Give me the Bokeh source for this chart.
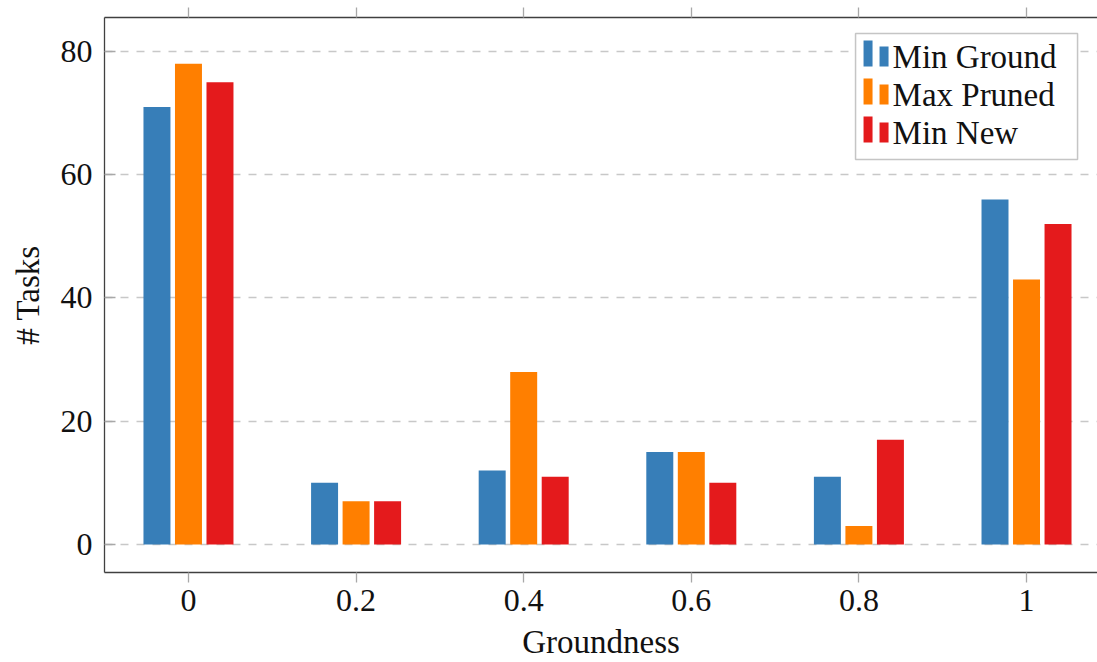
from bokeh.plotting import figure
from bokeh.models import FixedTicker, LinearAxis, Range1d, BoxAnnotation, Label
from bokeh.embed import file_html
from bokeh.resources import INLINE

# groundness bins and task counts per strategy
groundness = [0, 0.2, 0.4, 0.6, 0.8, 1]
min_ground = [71, 10, 12, 15, 11, 56]
max_pruned = [78, 7, 28, 15, 3, 43]
min_new = [75, 7, 11, 10, 17, 52]
series_names = ["Min Ground", "Max Pruned", "Min New"]
series_colors = ["#377eb8", "#ff7f00", "#e41a1c"]
x_tick_labels = ["0", "0.2", "0.4", "0.6", "0.8", "1"]
y_ticks = [0, 20, 40, 60, 80]

FONT = "Liberation Serif"
TICK_FS = "32px"
LABEL_FS = "33px"
AXIS_COL = "#404040"
TICK_COL = "#a8a8a8"

X0, X1 = -0.1002, 1.0847
Y0, Y1 = -4.544, 85.517

p = figure(width=1097, height=662, output_backend="svg", toolbar_location=None,
           x_range=Range1d(X0, X1), y_range=Range1d(Y0, Y1),
           min_border_left=104, min_border_right=0, min_border_top=17,
           min_border_bottom=90)
p.outline_line_color = None
p.background_fill_color = "white"
p.border_fill_color = "white"

# bars: three series side by side around each bin
bar_w = 0.0322
offset = 0.0376
for i, (vals, color) in enumerate(zip([min_ground, max_pruned, min_new], series_colors)):
    xs = [g + (i - 1) * offset for g in groundness]
    p.vbar(x=xs, top=vals, bottom=0, width=bar_w, fill_color=color, line_color=None)

# grid
p.xgrid.visible = False
p.ygrid.ticker = FixedTicker(ticks=y_ticks)
p.ygrid.grid_line_color = "#c8c8c8"
p.ygrid.grid_line_dash = "8 8"
p.ygrid.grid_line_width = 1.3

# bottom axis
xa = p.xaxis[0]
xa.ticker = FixedTicker(ticks=groundness)
xa.major_label_overrides = {g: t for g, t in zip(groundness, x_tick_labels)}
xa.axis_label = "Groundness"

# left axis
ya = p.yaxis[0]
ya.ticker = FixedTicker(ticks=y_ticks)
ya.axis_label = "# Tasks"

for ax in (xa, ya):
    ax.axis_line_color = AXIS_COL
    ax.axis_line_width = 1.3
    ax.major_tick_line_color = TICK_COL
    ax.major_tick_line_width = 1.3
    ax.minor_tick_line_color = None
    ax.major_label_text_font = FONT
    ax.major_label_text_font_size = TICK_FS
    ax.major_label_text_color = "#111111"
    ax.axis_label_text_font = FONT
    ax.axis_label_text_font_size = LABEL_FS
    ax.axis_label_text_font_style = "normal"
    ax.axis_label_text_color = "#111111"

xa.major_tick_in = 0
xa.major_tick_out = 10
xa.major_label_standoff = 7
xa.axis_label_standoff = 10
ya.major_tick_in = 11
ya.major_tick_out = 0
ya.major_label_standoff = 12
ya.axis_label_standoff = 12

# top axis: ticks only
top = LinearAxis(ticker=FixedTicker(ticks=groundness))
top.axis_line_color = AXIS_COL
top.axis_line_width = 1.3
top.major_tick_line_color = TICK_COL
top.major_tick_line_width = 1.3
top.major_tick_in = 0
top.major_tick_out = 10
top.minor_tick_line_color = None
top.major_label_text_font_size = "0px"
top.major_label_text_color = None
top.major_label_standoff = 0
p.add_layout(top, "above")

# legend laid out in frame-relative pixel offsets
def dx(px):
    return X0 + (px - 104) / 838.0

def dy(px):
    return (544 - px) / 6.1625

p.add_layout(BoxAnnotation(left=dx(855), right=dx(1077), top=dy(33), bottom=dy(159),
                           fill_color="white", fill_alpha=1.0, line_color="#404040",
                           line_width=1.5, level="underlay"))
for k, (name, color) in enumerate(zip(series_names, series_colors)):
    base = 66 + 38 * k
    p.add_layout(BoxAnnotation(left=dx(863), right=dx(872), top=dy(base - 26), bottom=dy(base),
                               fill_color=color, fill_alpha=1.0, line_color=None))
    p.add_layout(BoxAnnotation(left=dx(879), right=dx(888), top=dy(base - 20), bottom=dy(base),
                               fill_color=color, fill_alpha=1.0, line_color=None))
    p.add_layout(Label(x=dx(892), y=dy(base - 9), text=name, text_font=FONT,
                       text_font_size=LABEL_FS, text_color="#111111",
                       text_baseline="alphabetic"))

open("out.html", "w").write(file_html(p, INLINE))
